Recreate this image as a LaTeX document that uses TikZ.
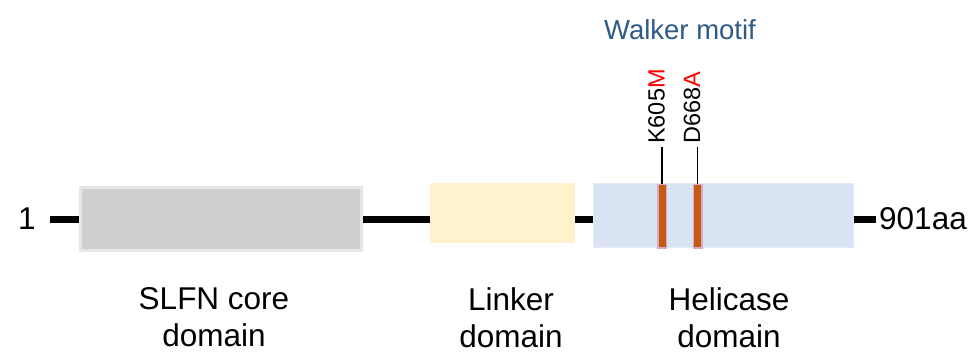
\documentclass[tikz,border=0pt]{standalone}
\usepackage{fontspec}
\setmainfont{Liberation Sans}
\definecolor{coregray}{HTML}{D0CECE}
\definecolor{coreedge}{HTML}{E7E6E6}
\definecolor{linkfill}{HTML}{FFF2CC}
\definecolor{helifill}{HTML}{DAE3F3}
\definecolor{heliedge}{HTML}{E2EAF6}
\definecolor{siteorange}{HTML}{C55A11}
\definecolor{siteedge}{HTML}{D9AACB}
\definecolor{walkerblue}{HTML}{2E5A88}
\definecolor{mutred}{HTML}{FF0000}
\tikzset{
  domainbox/.style={rectangle, inner sep=0pt, anchor=north west},
  backbone/.style={line width=7pt, black},
  sitebar/.style={rectangle, inner sep=0pt, fill=siteorange, draw=siteedge,
    line width=1.5pt, minimum width=8.5pt, minimum height=63.5pt, anchor=north},
  tick/.style={line width=1.6pt, black},
  bigtext/.style={font=\fontsize{31.5}{37}\selectfont, inner sep=0pt},
  sitetext/.style={font=\fontsize{23.5}{28}\selectfont, inner sep=0pt, rotate=90, anchor=mid west},
  domlabel/.style={bigtext, align=center, anchor=north}
}
\begin{document}
\begin{tikzpicture}[x=1pt, y=-1pt]
  \useasboundingbox (0,0) rectangle (974,352);

  % domains
  \node[domainbox, fill=coregray, draw=coreedge, line width=2.5pt,
        minimum width=281pt, minimum height=63pt] (core) at (79.25,186.25) {};
  \node[domainbox, fill=linkfill, minimum width=145pt, minimum height=60pt]
        (linker) at (430,183) {};
  \node[domainbox, fill=helifill, draw=heliedge, line width=1pt,
        minimum width=260pt, minimum height=64pt] (heli) at (592.5,183.5) {};

  % sequence ends
  \coordinate (nterm) at (50,219.5);
  \coordinate (cterm) at (876,219.5);
  \node[bigtext, anchor=base] (first) at (27,230) {1};
  \node[bigtext, anchor=base west] (last) at (879,230) {901aa};

  % backbone between domains, kept on one level
  \draw[backbone] (nterm) -- (nterm -| core.west);
  \draw[backbone] (nterm -| core.east) -- (nterm -| linker.west);
  \draw[backbone] (nterm -| linker.east) -- (nterm -| heli.west);
  \draw[backbone] (nterm -| heli.east) -- (cterm);

  % mutated Walker motif residues
  \node[sitebar] (k605) at (662,183.75) {};
  \node[sitebar] (d668) at (697.5,183.75) {};
  \coordinate (k605top) at (662,147);
  \coordinate (d668top) at (697.5,147);
  \draw[tick] (k605.north) -- (k605top);
  \draw[tick] (d668.north) -- (d668top);
  \node[sitetext] (k605lab) at (662,144) {K605{\color{mutred}M}};
  \node[sitetext] (d668lab) at (697.5,144) {D668{\color{mutred}A}};
  \node[font=\fontsize{27.5}{33}\selectfont, inner sep=0pt, anchor=base,
        text=walkerblue] (walker) at (680,40) {Walker motif};

  % domain names
  \node[domlabel] (corelab) at (214,287) {SLFN core\\domain};
  \node[domlabel] (linklab) at (511,287) {Linker\\domain};
  \node[domlabel] (helilab) at (729,287) {Helicase\\domain};
\end{tikzpicture}
\end{document}
